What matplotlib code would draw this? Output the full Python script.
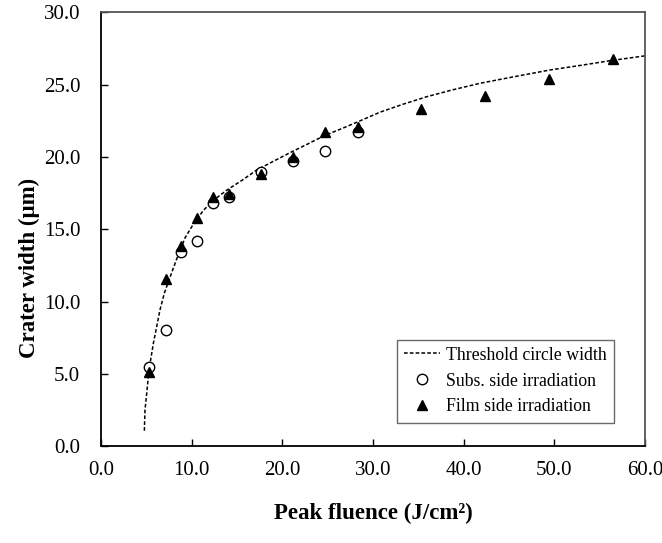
import matplotlib
matplotlib.use("Agg")
import matplotlib.pyplot as plt

plt.rcParams['font.family'] = ['Liberation Serif', 'DejaVu Serif']

# threshold circle width curve
curve_x = [4.78, 4.85, 5.04, 5.29, 5.77, 6.14, 6.5, 6.98, 7.42, 8.35, 9.26, 10.18, 11.28,
           12.39, 13.86, 15.7, 17.17, 19.0, 20.85, 22.8, 24.7, 26.5, 28.2, 30.77, 33.3,
           35.92, 38.8, 41.8, 45.1, 49.5, 53.0, 56.1, 60.0]
curve_y = [1.06, 2.49, 3.65, 5.26, 7.1, 8.26, 9.41, 10.57, 11.35, 12.95, 14.4, 15.35, 16.3,
           17.0, 17.7, 18.45, 19.1, 19.7, 20.3, 20.9, 21.5, 21.95, 22.4, 23.1, 23.65,
           24.17, 24.65, 25.1, 25.5, 26.02, 26.35, 26.66, 27.0]

subs_x = [5.33, 7.13, 8.79, 10.55, 12.35, 14.1, 17.7, 21.2, 24.7, 28.3]
subs_y = [5.45, 8.0, 13.4, 14.2, 16.8, 17.25, 18.96, 19.75, 20.4, 21.7]

film_x = [5.33, 7.13, 8.79, 10.55, 12.35, 14.1, 17.7, 21.2, 24.7, 28.3, 35.3, 42.4, 49.45, 56.5]
film_y = [5.1, 11.55, 13.85, 15.75, 17.2, 17.45, 18.8, 20.0, 21.75, 22.1, 23.35, 24.2, 25.4, 26.8]

fig = plt.figure(figsize=(6.62, 5.43), dpi=100)
ax = fig.add_axes([0.1526, 0.1786, 0.8217, 0.7984])

ax.plot(curve_x, curve_y, color='black', linestyle=(0, (2.4, 1.4)), linewidth=1.1,
        label='Threshold circle width')
ax.plot(subs_x, subs_y, 'o', markerfacecolor='white', markeredgecolor='black',
        markeredgewidth=1.0, markersize=7.5, linestyle='none', label='Subs. side irradiation')
ax.plot(film_x, film_y, '^', color='black', markersize=7.5, linestyle='none',
        label='Film side irradiation')

ax.set_xlim(0, 60)
ax.set_ylim(0, 30)
ax.set_xticks([0, 10, 20, 30, 40, 50, 60])
ax.set_yticks([0, 5, 10, 15, 20, 25, 30])
ax.xaxis.set_major_formatter(matplotlib.ticker.FormatStrFormatter('%.1f'))
ax.yaxis.set_major_formatter(matplotlib.ticker.FormatStrFormatter('%.1f'))
ax.tick_params(direction='in', length=5, width=1.0, labelsize=15)
ax.tick_params(axis='x', pad=11)
ax.tick_params(axis='y', pad=15)

for side in ['left', 'bottom']:
    ax.spines[side].set_color('black')
    ax.spines[side].set_linewidth(1.3)
for side in ['top', 'right']:
    ax.spines[side].set_color('#555555')
    ax.spines[side].set_linewidth(1.3)

ax.set_xlabel('Peak fluence (J/cm²)', fontsize=16.5, fontweight='bold', labelpad=16)
ax.set_ylabel('Crater width (μm)', fontsize=16.5, fontweight='bold', labelpad=10)
ax.yaxis.set_label_coords(-0.112, 0.41)

leg = ax.legend(loc='lower right', bbox_to_anchor=(0.949, 0.046), fontsize=12.8,
                frameon=True, fancybox=False, edgecolor='#444444', handlelength=2.0,
                handletextpad=0.35, borderpad=0.4, labelspacing=0.5, borderaxespad=0.2)
leg.get_frame().set_linewidth(1.0)

fig.savefig('out.png', dpi=100)
